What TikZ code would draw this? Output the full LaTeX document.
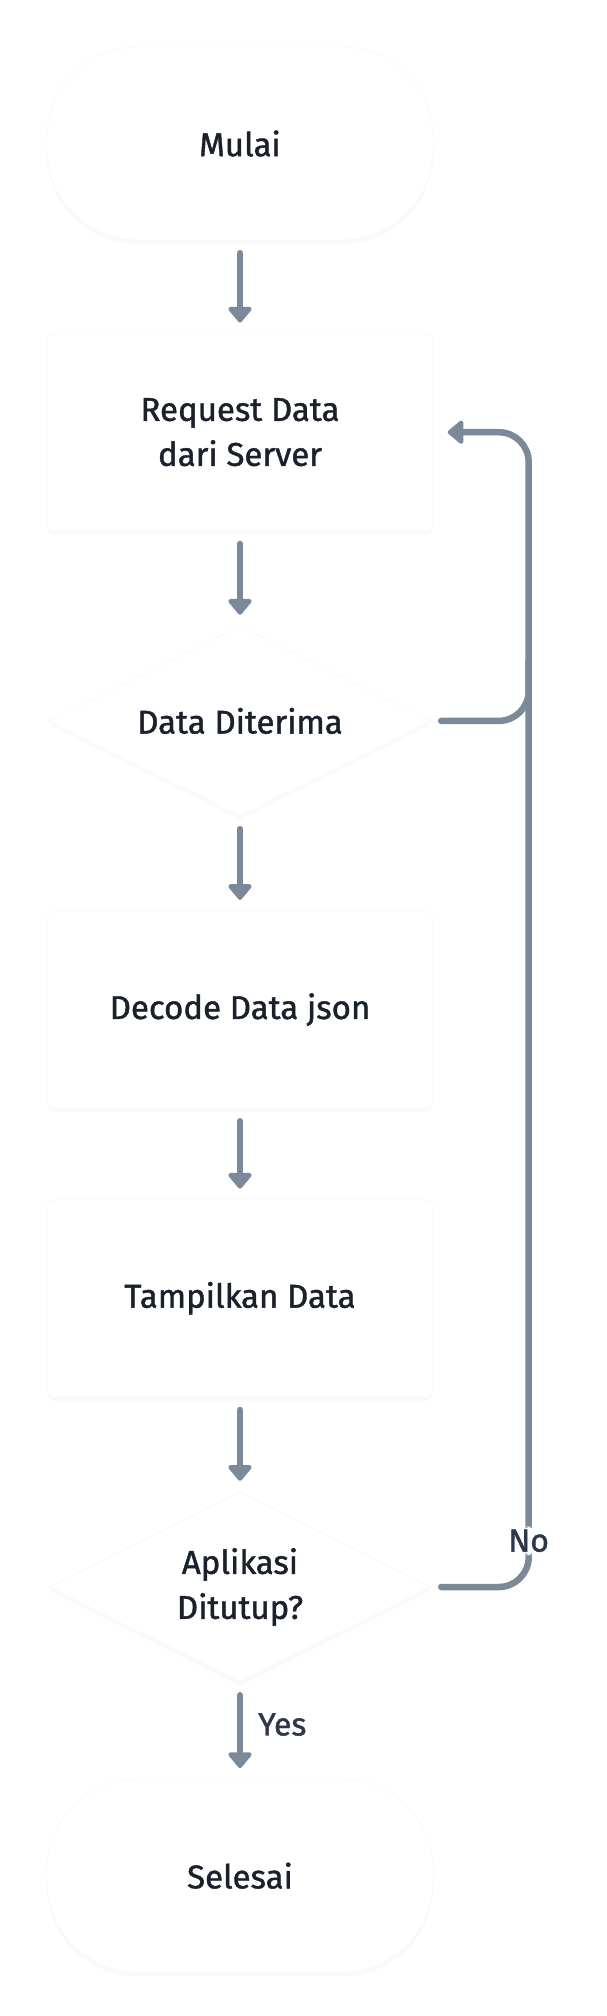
\documentclass[tikz,border=0pt]{standalone}
\usepackage{fontspec}
\setmainfont{Fira Sans}[FakeBold=1.2]
\usepackage{xcolor}
\usetikzlibrary{positioning,shapes.geometric,arrows.meta,shadows}

\definecolor{lineclr}{HTML}{7B8999}
\definecolor{textclr}{HTML}{1A202C}
\definecolor{labelclr}{HTML}{2D3748}

\begin{document}
\begin{tikzpicture}[x=1pt, y=1pt, node distance=288.7pt, on grid,
    every node/.style = {align=center, text=textclr,
      font=\fontsize{33}{45}\selectfont},
    base/.style = {draw=black!4, fill=white,
      drop shadow={opacity=0.04, shadow xshift=0pt, shadow yshift=-4pt}},
    terminal/.style = {base, rectangle, rounded corners=90pt,
      minimum width=386pt, minimum height=193pt},
    process/.style = {base, rectangle, rounded corners=6pt,
      minimum width=385pt, minimum height=197pt},
    decision/.style = {base, diamond, shape aspect=2, inner sep=0pt,
      minimum width=382pt, minimum height=190pt},
    flow/.style = {draw=lineclr, line width=6.5pt, line cap=round,
      -{Triangle[width=27pt,length=17pt,round]},
      shorten <=13pt, shorten >=11pt},
    loop/.style = {draw=lineclr, line width=6.5pt, line cap=round,
      rounded corners=30pt},
    tag/.style = {text=labelclr, fill=white, inner sep=3pt,
      font=\fontsize{32}{40}\selectfont}]
  \useasboundingbox (0,0) rectangle (606,-2016);

  % the flow, top to bottom
  \node[terminal] (mulai) at (240,-143.5) {Mulai};
  \node[process, below=of mulai] (request) {Request Data\\dari Server};
  \node[decision, below=of request] (check) {Data Diterima};
  \node[process, below=of check] (decode) {Decode Data json};
  \node[process, below=of decode] (show) {Tampilkan Data};
  \node[decision, below=of show] (closed) {Aplikasi\\Ditutup?};
  \node[terminal, below=of closed] (selesai) {Selesai};

  \draw[flow] (mulai) -- (request);
  \draw[flow] (request) -- (check);
  \draw[flow] (check) -- (decode);
  \draw[flow] (decode) -- (show);
  \draw[flow] (show) -- (closed);
  \draw[flow] (closed) -- node[tag, anchor=west, xshift=12pt, yshift=6pt]{Yes} (selesai);

  % going back to the request
  \coordinate (back) at ([xshift=96pt]request.east);
  \draw[loop] ([xshift=10pt]check.east) -- (check.east -| back) -- ++(0,60);
  \draw[loop, -{Triangle[width=27pt,length=17pt,round]}]
    ([xshift=10pt]closed.east) -| node[tag, pos=0.52]{No} (back)
    -- ([xshift=15pt]request.east);
\end{tikzpicture}
\end{document}
